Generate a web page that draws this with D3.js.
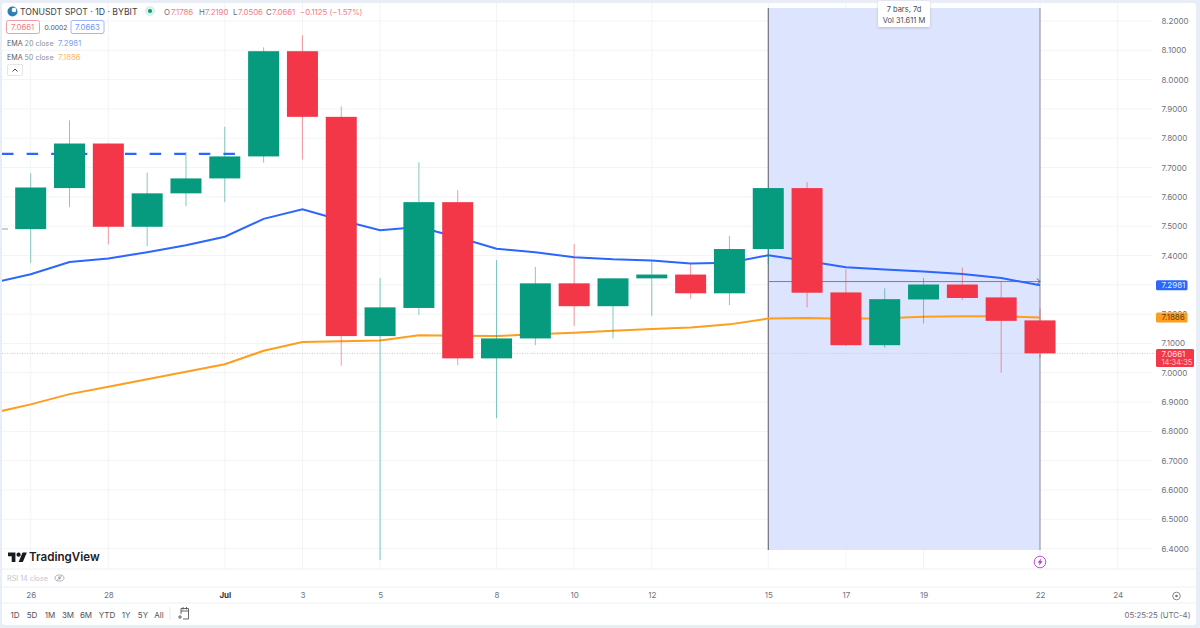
<!DOCTYPE html>
<html><head><meta charset="utf-8">
<script src="https://cdn.jsdelivr.net/npm/d3@7"></script>
<style>
html,body{margin:0;padding:0;background:#e9edf6;overflow:hidden}
svg{display:block;font-family:Inter,"Noto Sans",sans-serif}
</style></head><body><svg id="c" width="1200" height="628"></svg>
<script>
const barDates = ["2024-06-26","2024-06-27","2024-06-28","2024-06-29","2024-06-30","2024-07-01","2024-07-02","2024-07-03","2024-07-04","2024-07-05","2024-07-06","2024-07-07","2024-07-08","2024-07-09","2024-07-10","2024-07-11","2024-07-12","2024-07-13","2024-07-14","2024-07-15","2024-07-16","2024-07-17","2024-07-18","2024-07-19","2024-07-20","2024-07-21","2024-07-22"];
const opens  = [7.490,7.630,7.782,7.498,7.612,7.663,7.738,8.097,7.873,7.125,7.221,7.582,7.049,7.117,7.305,7.227,7.322,7.335,7.271,7.422,7.630,7.274,7.094,7.250,7.301,7.257,7.1786];
const highs  = [7.680,7.861,7.782,7.683,7.753,7.839,8.110,8.151,7.909,7.323,7.718,7.623,7.384,7.361,7.439,7.322,7.383,7.374,7.466,7.630,7.650,7.353,7.288,7.324,7.359,7.310,7.2190];
const lows   = [7.375,7.565,7.438,7.432,7.568,7.582,7.717,7.727,7.024,6.361,7.197,7.026,6.845,7.094,7.160,7.117,7.194,7.253,7.231,7.370,7.223,7.091,7.085,7.168,7.248,7.000,7.0506];
const closes = [7.632,7.782,7.498,7.612,7.663,7.738,8.097,7.873,7.125,7.223,7.582,7.049,7.117,7.305,7.227,7.322,7.335,7.271,7.422,7.630,7.273,7.094,7.251,7.301,7.255,7.177,7.0661];
const emaDates = ["2024-06-25"].concat(barDates);
const ema20 = [7.306,7.336,7.378,7.390,7.411,7.435,7.464,7.525,7.558,7.520,7.486,7.497,7.462,7.423,7.411,7.394,7.387,7.383,7.373,7.375,7.401,7.381,7.360,7.352,7.345,7.337,7.323,7.2981];
const ema50 = [6.862,6.892,6.927,6.952,6.978,7.003,7.029,7.075,7.105,7.107,7.110,7.128,7.126,7.125,7.131,7.136,7.143,7.149,7.154,7.165,7.185,7.187,7.184,7.186,7.191,7.193,7.193,7.1886];
const priceTicks = [8.2,8.1,8.0,7.9,7.8,7.7,7.6,7.5,7.4,7.3,7.2,7.1,7.0,6.9,6.8,6.7,6.6,6.5,6.4];
const timeTickDates = ["2024-06-26","2024-06-28","2024-07-01","2024-07-03","2024-07-05","2024-07-08","2024-07-10","2024-07-12","2024-07-15","2024-07-17","2024-07-19","2024-07-22","2024-07-24"];
const timeTickLabels = ["26","28","Jul","3","5","8","10","12","15","17","19","22","24"];
const rangeButtons = ["1D","5D","1M","3M","6M","YTD","1Y","5Y","All"];
const rangeButtonX = [15,32,50,68,86,107,126,143,159];
const dashedLevel = 7.7466;
const lastClose = 7.0661;
const measureStart = "2024-07-15", measureEnd = "2024-07-22", measureLevel = 7.311;

const UP="#069a7f", DOWN="#f33748", BLUE="#2a66ff", ORANGE="#ff9d1e";
const D=s=>new Date(s+"T00:00:00Z");
const x=d3.scaleUtc().domain([D("2024-06-26"),D("2024-07-22")]).range([30.7,1040]);
const y=d3.scaleLinear().domain([6.4,8.2]).range([548.6,21]);
const svg=d3.select("#c");
const filt=svg.append("defs").append("filter").attr("id","sh").attr("x","-30%").attr("y","-30%").attr("width","160%").attr("height","180%");
filt.append("feDropShadow").attr("dx",0).attr("dy",1).attr("stdDeviation",1.5).attr("flood-color","#000").attr("flood-opacity",.18);

// panel
svg.append("rect").attr("x",2).attr("y",3).attr("width",1194).attr("height",622).attr("rx",3).attr("fill","#fff");

// grid
const grid=svg.append("g").attr("stroke","#f3f4f7").attr("stroke-width",1);
grid.selectAll(".h").data(priceTicks).join("line").attr("x1",2).attr("x2",1152).attr("y1",d=>y(d)).attr("y2",d=>y(d));
grid.selectAll(".v").data(timeTickDates).join("line").attr("x1",d=>x(D(d))).attr("x2",d=>x(D(d))).attr("y1",3).attr("y2",569);

// measure region
const mx0=x(D(measureStart)), mx1=x(D(measureEnd));
svg.append("rect").attr("x",mx0).attr("y",8).attr("width",mx1-mx0).attr("height",542).attr("fill","#dde4fd");
[mx0,mx1].forEach((v,i)=>svg.append("line").attr("x1",v).attr("x2",v).attr("y1",8).attr("y2",550).attr("stroke",i?"#8a8d96":"#55585f").attr("stroke-width",1));
svg.append("line").attr("x1",mx0).attr("x2",mx1).attr("y1",y(measureLevel)).attr("y2",y(measureLevel)).attr("stroke","#7b7e88").attr("stroke-width",1);
svg.append("path").attr("d",`M${mx1-3} ${y(measureLevel)-3}L${mx1} ${y(measureLevel)}L${mx1-3} ${y(measureLevel)+3}`).attr("fill","none").attr("stroke","#555").attr("stroke-width",1);

// dashed level, short mark, last price line
svg.append("line").attr("x1",2).attr("x2",243).attr("y1",y(dashedLevel)).attr("y2",y(dashedLevel)).attr("stroke",BLUE).attr("stroke-width",2.2).attr("stroke-dasharray","11.5 13.1");
svg.append("line").attr("x1",2).attr("x2",8).attr("y1",229).attr("y2",229).attr("stroke","#7fa99f").attr("stroke-width",1);
svg.append("line").attr("x1",2).attr("x2",1155).attr("y1",y(lastClose)).attr("y2",y(lastClose)).attr("stroke","#f9b4ba").attr("stroke-width",1).attr("stroke-dasharray","1 1.5");

// EMAs
const line=d3.line().x((d,i)=>x(D(emaDates[i]))).y(d=>y(d));
const clip=svg.select("defs").append("clipPath").attr("id","pane");
clip.append("rect").attr("x",2).attr("y",3).attr("width",1150).attr("height",566);
const pane=svg.append("g").attr("clip-path","url(#pane)");
pane.append("path").attr("d",line(ema20)).attr("fill","none").attr("stroke",BLUE).attr("stroke-width",2);
pane.append("path").attr("d",line(ema50)).attr("fill","none").attr("stroke",ORANGE).attr("stroke-width",2);

// candles
const idx=d3.range(barDates.length);
const col=i=>closes[i]>=opens[i]?UP:DOWN;
pane.selectAll(".w").data(idx).join("line").attr("x1",i=>x(D(barDates[i]))).attr("x2",i=>x(D(barDates[i])))
 .attr("y1",i=>y(highs[i])).attr("y2",i=>y(lows[i])).attr("stroke",col).attr("stroke-width",1).attr("stroke-opacity",.5);
pane.selectAll(".b").data(idx).join("rect").attr("x",i=>x(D(barDates[i]))-15.5).attr("width",31)
 .attr("y",i=>y(Math.max(opens[i],closes[i]))).attr("height",i=>Math.max(1.5,Math.abs(y(opens[i])-y(closes[i])))).attr("fill",col);

// price axis
const yAxis=d3.axisRight(y).tickValues(priceTicks).tickFormat(d3.format(".4f")).tickSize(0).tickPadding(0);
const ya=svg.append("g").attr("transform","translate(1161.5,0)").call(yAxis);
ya.select(".domain").remove();
ya.selectAll("text").attr("font-size",8).attr("fill","#6f7280").attr("font-family","Inter");

// time axis
const lab=new Map(timeTickDates.map((d,i)=>[+D(d),timeTickLabels[i]]));
const xAxis=d3.axisBottom(x).tickValues(timeTickDates.map(D)).tickFormat(d=>lab.get(+d)).tickSize(0).tickPadding(0);
const xa=svg.append("g").attr("transform","translate(0,592)").call(xAxis);
xa.select(".domain").remove();
xa.selectAll("text").attr("font-size",8).attr("font-family","Inter")
 .attr("font-weight",d=>lab.get(+d)==="Jul"?700:400).attr("fill",d=>lab.get(+d)==="Jul"?"#333":"#6f7280");

// separators
[569,587,603].forEach(v=>svg.append("line").attr("x1",2).attr("x2",1196).attr("y1",v).attr("y2",v).attr("stroke","#eef0f4").attr("stroke-width",1.2));

// price tags
function tag(yc,h,w,fill,lines){
 svg.append("rect").attr("x",1156).attr("y",yc-h/2).attr("width",w).attr("height",h).attr("rx",1.5).attr("fill",fill);
 lines.forEach(l=>svg.append("text").attr("x",1161.5).attr("y",yc+l.dy).attr("font-size",l.s||8).attr("fill",l.c).text(l.t));
}
tag(y(7.2981),10,31.5,BLUE,[{t:"7.2981",dy:3,c:"#e6edff"}]);
tag(y(7.1886),10,31.5,ORANGE,[{t:"7.1886",dy:3,c:"#5b4212"}]);
tag(358,18,38,DOWN,[{t:"7.0661",dy:-1.5,c:"#ffe3e6"},{t:"14:34:35",dy:6.5,s:7.5,c:"#ffc4ca"}]);

// tooltip
svg.append("rect").attr("x",878).attr("y",1).attr("width",52).attr("height",26).attr("rx",2).attr("fill","#fff").attr("filter","url(#sh)");
svg.append("text").attr("x",904).attr("y",12).attr("text-anchor","middle").attr("font-size",7.5).attr("fill","#4a4c55").text("7 bars, 7d");
svg.append("text").attr("x",904).attr("y",23).attr("text-anchor","middle").attr("font-size",7.5).attr("fill","#4a4c55").text("Vol 31.611 M");

// legend
const T=(px,py,t,s,c,w)=>svg.append("text").attr("x",px).attr("y",py).attr("font-size",s).attr("fill",c).attr("font-weight",w||400).text(t);
svg.append("circle").attr("cx",12.5).attr("cy",11.5).attr("r",5).attr("fill","#2a7fb8");
svg.append("circle").attr("cx",14).attr("cy",10).attr("r",2.3).attr("fill","#fff");
T(20,15,"TONUSDT SPOT · 1D · BYBIT",8.7,"#3d3f47");
svg.append("circle").attr("cx",150).attr("cy",11).attr("r",5).attr("fill","#d9f0eb");
svg.append("circle").attr("cx",150).attr("cy",11).attr("r",2).attr("fill",UP);
const R="#f47b86", K="#6c6f79";
[[164,"O",K],[171,"7.1786",R],[199,"H",K],[205,"7.2190",R],[233,"L",K],[238,"7.0506",R],[266,"C",K],[272,"7.0661",R],[300,"−0.1125 (−1.57%)",R]].forEach(a=>T(a[0],14.5,a[1],7.8,a[2]));
svg.append("rect").attr("x",6.5).attr("y",20.5).attr("width",33).attr("height",13).attr("rx",2).attr("fill","#fff").attr("stroke","#f59aa3");
T(11,30,"7.0661",7.8,R);
T(44.5,30,"0.0002",6.8,"#555");
svg.append("rect").attr("x",71).attr("y",20.5).attr("width",33).attr("height",13).attr("rx",2).attr("fill","#fff").attr("stroke","#9db8ff");
T(75,30,"7.0663",7.8,"#6f94ff");
T(7,46,"EMA",7.2,"#5a5c66"); T(24.5,46,"20 close",7.2,"#8d9099"); T(58,46,"7.2981",7.8,"#7b9dff");
T(7,60,"EMA",7.2,"#5a5c66"); T(24.5,60,"50 close",7.2,"#8d9099"); T(58,60,"7.1886",7.8,"#ffb866");
svg.append("rect").attr("x",7.5).attr("y",64.5).attr("width",15).attr("height",11).attr("rx",1.5).attr("fill","#fff").attr("stroke","#e3e5ea");
svg.append("path").attr("d","M12.5 71.5L15 69L17.5 71.5").attr("fill","none").attr("stroke","#444").attr("stroke-width",1);

// logo
const logo=svg.append("g").attr("transform","translate(8,551.5) scale(0.53)").attr("fill","#1a1b20");
logo.append("path").attr("d","M14 20H7V9H0V2h14v18zM28 20h-8l7.5-18h8L28 20z");
logo.append("circle").attr("cx",20).attr("cy",6).attr("r",4);
T(29,561,"TradingView",11.6,"#1f2026",600);

// RSI
T(7,581,"RSI 14 close",7.2,"#c3c5cc");
svg.append("ellipse").attr("cx",59.5).attr("cy",578).attr("rx",4.5).attr("ry",3).attr("fill","none").attr("stroke","#a6a9b2").attr("stroke-width",.9);
svg.append("circle").attr("cx",59.5).attr("cy",578).attr("r",1.4).attr("fill","#a6a9b2");
svg.append("line").attr("x1",56).attr("x2",63).attr("y1",581).attr("y2",575).attr("stroke","#a6a9b2").attr("stroke-width",.8);

// lightning badge
svg.append("circle").attr("cx",1040).attr("cy",562).attr("r",5.8).attr("fill","#fff").attr("stroke","#c34ee0").attr("stroke-width",1);
svg.append("path").attr("d","M1041.6 558L1037.6 562.8H1039.8L1038.6 566L1042.6 561.2H1040.4Z").attr("fill","#a03cc0");

// range bar
rangeButtons.forEach((t,i)=>svg.append("text").attr("x",rangeButtonX[i]).attr("y",618).attr("text-anchor","middle").attr("font-size",8).attr("fill","#4e515b").text(t));
svg.append("line").attr("x1",170).attr("x2",170).attr("y1",607).attr("y2",620).attr("stroke","#e6e8ec");
svg.append("path").attr("d","M181 614V608.5H188.5V619H183M181 611H188.5M183 607V609.5M186.5 607V609.5M178 617H182M180 615V619").attr("fill","none").attr("stroke","#555").attr("stroke-width",.9);
svg.append("text").attr("x",1190.5).attr("y",618).attr("text-anchor","end").attr("font-size",7.8).attr("fill","#6a6d78").text("05:25:25 (UTC-4)");
svg.append("circle").attr("cx",1176.5).attr("cy",596).attr("r",3.8).attr("fill","none").attr("stroke","#777").attr("stroke-width",.9);
svg.append("circle").attr("cx",1176.5).attr("cy",596).attr("r",1.3).attr("fill","#777");
</script></body></html>
